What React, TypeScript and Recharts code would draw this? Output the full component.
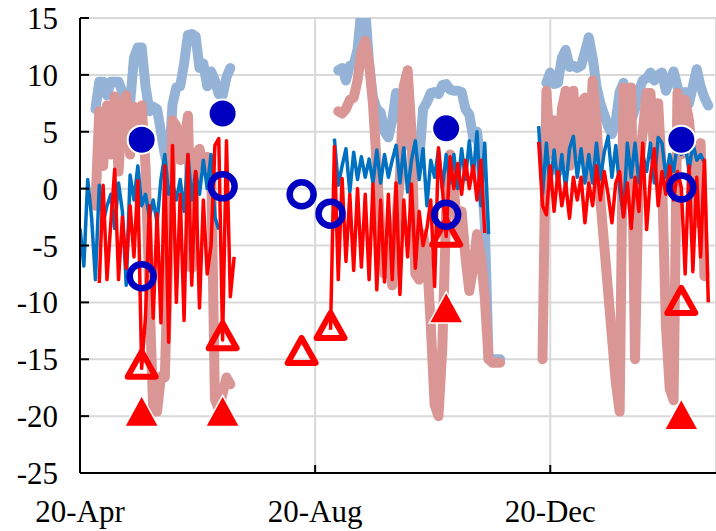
import { ComposedChart, Line, Scatter, XAxis, YAxis, CartesianGrid } from "recharts";

// day 0 = 2020-04-01, one sample every STEP days
const STEP = 2;
const gap = (n: number) => Array(n).fill(null);

const tickDays = [0, 122, 244];
const tickLabels = ["20-Apr", "20-Aug", "20-Dec"];
const yTicks = [-25, -20, -15, -10, -5, 0, 5, 10, 15];

// thick light blue
const lightBlue: (number | null)[] = [
  ...gap(4),
  7.0, 9.4, 9.4, 8.2, 9.4, 9.4, 9.4, 8.5, 7.0, 7.5, 11.5, 12.4, 12.4, 9.0, 6.8, 7.2, 7.0, 5.0,
  3.0, 1.8, 7.4, 8.9, 9.0, 11.0, 13.5, 13.6, 13.4, 10.6, 11.0, 9.0, 10.3, 9.5, 8.3, 8.2, 9.8, 10.6,
  ...gap(27),
  10.4, 10.6, 9.5, 10.8, 10.9, 12.2, 15.8, 15.8, 11.0, 8.0, 7.0, 6.7, 5.0, 4.5, 6.0, 8.4, 6.5,
  5.5, 4.5, 3.5, 2.5, 2.4, 7.0, 7.6, 8.4, 8.5, 8.3, 9.1, 9.2, 8.7, 8.6, 8.6, 8.5, 7.0, 6.5, 4.5,
  5.0, 2.0, -3.0, -15.0, -15.0, -15.0, -15.0,
  ...gap(11),
  9.3, 10.2, 9.2, 9.3, 11.5, 12.2, 10.7, 10.8, 10.6, 10.8, 12.0, 13.3, 11.5, 9.0, 7.5, 6.5, 5.5,
  4.8, 6.0, 8.5, 9.3, 8.0, 6.0, 7.0, 8.6, 9.5, 9.7, 10.2, 9.5, 10.0, 10.2, 8.6, 9.5, 10.3, 9.0,
  7.5, 8.5, 7.5, 9.0, 10.5, 9.0, 8.0, 7.3,
];

// thick light red
const lightRed: (number | null)[] = [
  ...gap(4),
  -1.5, 6.8, 2.0, 7.3, 3.0, 8.1, 1.5, 7.0, 8.2, 3.0, 7.2, 4.0, 7.3, 2.0, -9.0, -19.6, -19.6,
  -16.5, -16.6, -5.0, 6.0, 5.5, 2.5, 4.0, 6.4, -7.0, 3.0, 3.5, 2.0, 2.8, 2.5, -18.5, -19.4,
  -18.0, -16.6, -17.2,
  ...gap(27),
  6.8, 6.6, 7.0, 7.8, 8.0, 9.5, 12.0, 13.0, 11.0, 7.5, 2.0, -4.0, -7.5, -5.0, -8.5, -3.0, 1.0,
  9.0, 10.4, 5.0, -7.5, -8.0, -4.0, -6.0, -12.0, -19.0, -20.0, -14.0, -2.0, 3.0, 0.0, -4.0,
  -2.0, -6.0, -9.0, -7.0, -4.0, -6.0, -9.5, -15.0, -15.3, -15.3, -15.3,
  ...gap(10),
  -15.0, 8.6, 3.0, 6.0, 1.5, 7.0, 8.6, 2.0, 8.6, 3.0, 7.5, 8.0, 1.0, 9.5, 6.0, -1.0, -5.0, -9.0,
  -13.0, -17.0, -19.6, 8.9, 2.0, 8.9, -15.0, 2.0, 5.0, 8.4, 8.4, 3.0, 7.5, 1.0, -12.0, -17.6,
  -18.6, 8.4, 3.0, 7.8, 6.0, 2.0, -3.0, 4.0, -7.7, null,
];

// thin blue
const blueThin: (number | null)[] = [
  -3.5, -6.8, 0.8, -2.5, -8.0, 0.3, -3.0, -1.5, -0.5, -3.5, 0.5, -2.0, -8.5, 1.2, -1.0, 2.0,
  -1.5, -0.5, -2.5, -1.0, -3.0, 0.8, 3.0, -0.5, 0.5, -1.0, 0.8, -2.0, 3.0, -1.0, 1.5, -0.5, 2.5,
  0.0, 3.0, -2.5, -3.6,
  ...gap(29),
  4.4, 0.3, 2.0, 3.5, -0.3, 3.2, 0.8, 2.8, 1.0, 2.6, 0.5, 3.4, 0.5, 3.0, 1.0, 2.5, 3.8, 0.5, 3.6,
  -0.3, 2.5, 4.2, 0.8, 3.5, -1.5, 2.5, 1.0, 3.4, 0.0, 3.0, 0.5, 3.0, 0.0, 3.5, 0.8, 4.2, 1.0,
  5.0, -1.5, 4.0, -4.0,
  ...gap(12),
  5.5, -0.5, 4.0, 0.0, 3.4, 0.2, 3.0, 0.0, 3.5, 4.6, 1.0, 3.5, 0.5, 3.0, 0.5, 4.0, 0.8, 3.2, 4.6,
  1.0, 3.8, 0.0, -2.4, 4.0, 1.0, 4.0, 0.5, 3.0, 1.5, 4.0, 0.5, 4.5, 4.0, 1.0, 3.0, 1.5, 4.0, 3.0,
  4.0, 1.5, 4.0, 2.5, 3.0, 2.3,
  null,
];

// thin red
const redThin: (number | null)[] = [
  ...gap(5),
  -8.3, 0.3, -8.0, -3.0, 1.7, -8.0, -2.5, -7.0, -1.5, -6.0, 0.7, -15.8, -11.2, -1.5, -11.4,
  -2.2, -11.8, 2.0, -13.5, 3.8, -10.0, -0.5, -11.6, 3.0, -8.5, 1.5, -10.5, -1.0, -7.5, -5.0, 3.8,
  4.4, -13.3, 4.2, -9.5, -6.0,
  ...gap(24),
  -12.4, 3.7, -8.0, 0.9, -6.4, -0.5, -7.2, 0.0, -6.9, -0.5, -8.0, 0.4, -8.9, -1.0, -8.2, -0.5,
  -8.0, 0.5, -9.3, -1.0, -6.0, 0.4, -7.0, -2.0, -5.0, -3.5, -1.0, -8.6, 3.6, 0.0, -4.2, 2.8, 0.0,
  2.2, -0.5, 2.5, 0.0, 2.0, -1.0, 2.5, -3.9,
  ...gap(13),
  4.1, -1.5, -2.3, 2.0, -2.0, 1.5, -1.5, 0.5, -2.6, 1.0, -1.0, 1.0, -3.0, 0.5, -1.5, 2.0, -1.0,
  1.5, -0.5, -3.0, 0.5, 1.5, -2.5, 0.5, -3.5, 1.0, -2.0, 4.0, -3.6, 1.0, 3.5, -1.5, 1.5, -0.5,
  2.0, -1.0, 1.5, 0.1, -7.5, 2.0, -7.3, 1.0, -6.0, 2.5, -10.0,
];

// point measurements
const markerDays = [32, 74, 115, 130, 190, 312];
const filledCircle = [4.3, 6.6, null, null, 5.3, 4.3];
const openCircle = [-7.7, 0.2, -0.5, -2.2, -2.3, 0.1];
const filledTriangle = [-20, -20, null, null, -10.9, -20.3];
const openTriangle = [-15.8, -13.3, -14.6, -12.4, -4.2, -10.2];

const data = lightBlue.map((_, i) => ({
  day: i * STEP,
  lb: lightBlue[i],
  lr: lightRed[i],
  bt: blueThin[i],
  rt: redThin[i],
}));

const points = (vals: (number | null)[]) =>
  markerDays.map((d, i) => ({ day: d, v: vals[i] })).filter((p) => p.v !== null);

const FilledCircle = (p: any) => (
  <circle cx={p.cx} cy={p.cy} r={14} fill="#0000c0" stroke="#fff" strokeWidth={2} />
);
const OpenCircle = (p: any) => (
  <circle cx={p.cx} cy={p.cy} r={12} fill="none" stroke="#0000c0" strokeWidth={6.5} />
);
const FilledTriangle = (p: any) => (
  <path
    d={`M${p.cx},${p.cy - 20.7}L${p.cx + 17},${p.cy + 10.3}L${p.cx - 17},${p.cy + 10.3}Z`}
    fill="#ff0000"
    stroke="#fff"
    strokeWidth={1.5}
  />
);
const OpenTriangle = (p: any) => (
  <path
    d={`M${p.cx},${p.cy - 16.7}L${p.cx + 14},${p.cy + 8.3}L${p.cx - 14},${p.cy + 8.3}Z`}
    fill="none"
    stroke="#ff0000"
    strokeWidth={6}
    strokeLinejoin="round"
  />
);

const font = { fill: "#000", fontSize: 31, fontFamily: "'Liberation Serif', 'Times New Roman', serif" };

export default function App() {
  return (
    <div style={{ position: "absolute", left: 0, top: 0 }}>
      <ComposedChart width={716} height={531} data={data} margin={{ top: 18, right: 0, bottom: 0, left: 0 }}>
        <CartesianGrid stroke="#d9d9d9" strokeWidth={2} />
        <XAxis
          dataKey="day"
          type="number"
          domain={[0, 330]}
          ticks={tickDays}
          tickFormatter={(d: number) => tickLabels[tickDays.indexOf(d)]}
          height={58}
          tick={font}
          tickSize={-8}
          tickMargin={35}
          axisLine={{ stroke: "#000", strokeWidth: 2 }}
          tickLine={{ stroke: "#000", strokeWidth: 2 }}
          allowDataOverflow
        />
        <YAxis
          type="number"
          domain={[-25, 15]}
          ticks={yTicks}
          width={80}
          tick={font}
          tickSize={-9}
          tickMargin={31}
          axisLine={{ stroke: "#000", strokeWidth: 2 }}
          tickLine={{ stroke: "#000", strokeWidth: 2 }}
          allowDataOverflow
        />
        <Line dataKey="lb" stroke="#95b3d7" strokeWidth={10} strokeLinecap="round" strokeLinejoin="round" dot={false} activeDot={false} isAnimationActive={false} />
        <Line dataKey="lr" stroke="#d99694" strokeWidth={10} strokeLinecap="round" strokeLinejoin="round" dot={false} activeDot={false} isAnimationActive={false} />
        <Line dataKey="bt" stroke="#0070c0" strokeWidth={3.5} strokeLinejoin="round" dot={false} activeDot={false} isAnimationActive={false} />
        <Line dataKey="rt" stroke="#ff0000" strokeWidth={3.5} strokeLinejoin="round" dot={false} activeDot={false} isAnimationActive={false} />
        <Scatter data={points(openTriangle)} dataKey="v" shape={OpenTriangle} isAnimationActive={false} />
        <Scatter data={points(filledTriangle)} dataKey="v" shape={FilledTriangle} isAnimationActive={false} />
        <Scatter data={points(openCircle)} dataKey="v" shape={OpenCircle} isAnimationActive={false} />
        <Scatter data={points(filledCircle)} dataKey="v" shape={FilledCircle} isAnimationActive={false} />
      </ComposedChart>
    </div>
  );
}
